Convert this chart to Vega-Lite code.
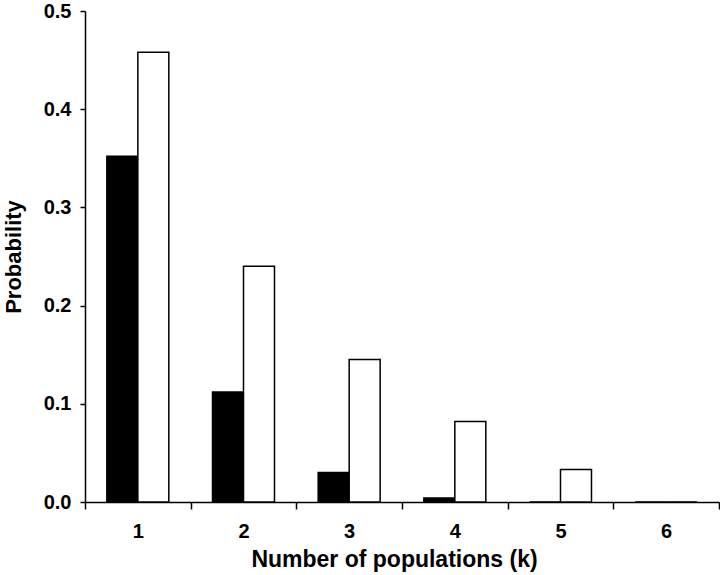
{
  "$schema": "https://vega.github.io/schema/vega-lite/v6.json",
  "autosize": {"type": "none"},
  "width": 634,
  "height": 491,
  "padding": {"left": 85, "top": 11, "right": 1, "bottom": 73},
  "background": "white",
  "config": {"view": {"stroke": null}, "font": "Liberation Sans"},
  "data": {"values": [
    {"k": "1", "series": "A", "p": 0.352},
    {"k": "1", "series": "B", "p": 0.458},
    {"k": "2", "series": "A", "p": 0.112},
    {"k": "2", "series": "B", "p": 0.240},
    {"k": "3", "series": "A", "p": 0.030},
    {"k": "3", "series": "B", "p": 0.145},
    {"k": "4", "series": "A", "p": 0.004},
    {"k": "4", "series": "B", "p": 0.082},
    {"k": "5", "series": "A", "p": 0.0},
    {"k": "5", "series": "B", "p": 0.033},
    {"k": "6", "series": "A", "p": 0.0},
    {"k": "6", "series": "B", "p": 0.0}
  ]},
  "mark": {"type": "bar", "stroke": "black", "strokeWidth": 1.5},
  "encoding": {
    "x": {
      "field": "k", "type": "ordinal",
      "scale": {"paddingInner": 0, "paddingOuter": 0},
      "axis": {
        "title": "Number of populations (k)",
        "labelAngle": 0,
        "tickBand": "extent",
        "tickSize": 7,
        "tickWidth": 1.5,
        "tickColor": "black",
        "domainColor": "black",
        "domainWidth": 1.5,
        "labelFont": "Liberation Sans",
        "labelFontWeight": "bold",
        "labelFontSize": 20,
        "labelColor": "black",
        "labelPadding": 12,
        "titleFont": "Liberation Sans",
        "titleFontWeight": "bold",
        "titleFontSize": 23,
        "titleColor": "black",
        "titlePadding": 7,
        "titleX": 309
      }
    },
    "xOffset": {
      "field": "series", "type": "nominal",
      "scale": {"paddingInner": 0, "paddingOuter": 0.705}
    },
    "y": {
      "field": "p", "type": "quantitative",
      "scale": {"domain": [0, 0.5], "nice": false},
      "axis": {
        "title": "Probability",
        "values": [0, 0.1, 0.2, 0.3, 0.4, 0.5],
        "format": ".1f",
        "grid": false,
        "tickSize": 5,
        "tickWidth": 1.5,
        "tickColor": "black",
        "domainColor": "black",
        "domainWidth": 1.5,
        "labelFont": "Liberation Sans",
        "labelFontWeight": "bold",
        "labelFontSize": 20,
        "labelColor": "black",
        "labelPadding": 9,
        "titleFont": "Liberation Sans",
        "titleFontWeight": "bold",
        "titleFontSize": 22,
        "titleColor": "black",
        "titleX": -60
      }
    },
    "fill": {
      "field": "series", "type": "nominal",
      "scale": {"domain": ["A", "B"], "range": ["black", "white"]},
      "legend": null
    }
  }
}
